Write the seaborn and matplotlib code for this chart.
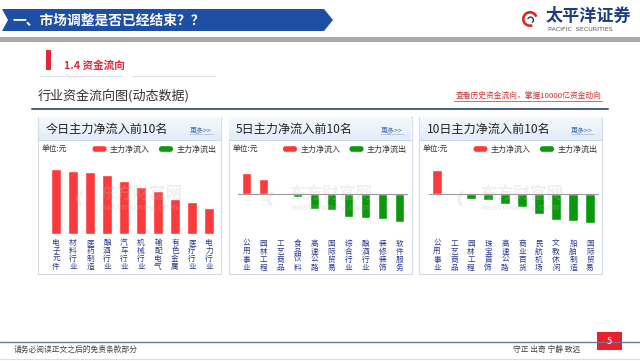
import matplotlib
matplotlib.use('Agg')
import matplotlib.pyplot as plt
import seaborn as sns
import pandas as pd
import numpy as np
from matplotlib.patches import Polygon, Rectangle, FancyBboxPatch, Wedge
from matplotlib.colors import LinearSegmentedColormap

# ---------------- data ----------------
panel_titles = ['今日主力净流入前10名', '5日主力净流入前10名', '10日主力净流入前10名']
today_cats = ['电子元件', '材料行业', '医药制造', '酿酒行业', '汽车行业',
              '机械行业', '输配电气', '有色金属', '医疗行业', '电力行业']
today_vals = [6.44, 6.27, 6.20, 5.84, 5.27, 4.67, 4.27, 3.44, 3.14, 2.54]
d5_cats = ['公用事业', '园林工程', '工艺商品', '食品饮料', '高速公路',
           '国际贸易', '综合行业', '酿酒行业', '装修装饰', '软件服务']
d5_vals = [2.13, 1.53, 0.02, -0.27, -1.47, -1.60, -2.27, -2.43, -2.50, -2.77]
d10_cats = ['公用事业', '工艺商品', '园林工程', '珠宝首饰', '高速公路',
            '商业百货', '民航机场', '文教休闲', '船舶制造', '国际贸易']
d10_vals = [2.37, 0.02, -0.50, -0.60, -1.00, -1.30, -2.00, -2.63, -2.73, -2.87]
legend_labels = ['主力净流入', '主力净流出']

RED = '#fb3b3b'
GREEN = '#0a990a'
NAVY_LBL = '#2b3a8c'

sns.set_theme(style='white')
plt.rcParams['font.family'] = ['Noto Sans CJK SC', 'DejaVu Sans']

W, H = 640, 361
fig = plt.figure(figsize=(W / 100, H / 100), dpi=100)
fig.patch.set_facecolor('white')

bg = fig.add_axes([0, 0, 1, 1])
bg.set_xlim(0, W)
bg.set_ylim(H, 0)
bg.axis('off')


def fax(x0, y0, x1, y1):
    return [x0 / W, 1 - y1 / H, (x1 - x0) / W, (y1 - y0) / H]


# ---------------- header ----------------
bg.add_patch(Polygon([(2, 9), (324, 9), (333, 20), (324, 31), (2, 31), (8, 20)],
                     closed=True, facecolor='#1d4fa5', edgecolor='none'))
bg.text(12, 20.5, '一、市场调整是否已经结束？？', color='white', fontsize=9.9,
        fontweight='bold', va='center', ha='left')
bg.add_patch(Rectangle((0, 37), W, 5, facecolor='#a9a9a9', edgecolor='none'))

# logo
bg.add_patch(Wedge((530, 19), 8, 70, 340, width=2.6, facecolor='#d9261c', edgecolor='none'))
bg.add_patch(Wedge((530.5, 20), 3.6, 200, 60, width=1.4, facecolor='#1d3d7f', edgecolor='none'))
bg.text(546, 16, '太平洋证券', color='#1d3d7f', fontsize=12.3, fontweight='bold',
        va='center', ha='left')
bg.text(548, 29.5, 'PACIFIC  SECURITIES', color='#555555', fontsize=4.6,
        va='center', ha='left', family=['DejaVu Sans'])

# section
bg.add_patch(Rectangle((46, 50), 4.5, 20, facecolor='#e0283a', edgecolor='none'))
bg.text(64, 66, '1.4 资金流向', color='#e0283a', fontsize=7.7, fontweight='bold',
        va='center', ha='left')
bg.plot([40, 122], [76, 76], color='#dde4ec', lw=0.8)
bg.plot([132, 215], [76, 76], color='#dde4ec', lw=0.8)

bg.text(38, 96, '行业资金流向图(动态数据)', color='#333333', fontsize=9.4,
        va='center', ha='left')
bg.text(602, 96, '查看历史资金流向，掌握10000亿资金动向', color='#c9302c', fontsize=5.6,
        va='center', ha='right')
bg.plot([454, 602], [100.5, 100.5], color='#c9302c', lw=0.5)
bg.plot([32, 608], [109.3, 109.3], color='#4a5f7a', lw=1.4)

# ---------------- panels ----------------
panels = [
    (38.0, panel_titles[0], today_cats, today_vals, (0, 7.37), 233.7),
    (228.5, panel_titles[1], d5_cats, d5_vals, (-4.0, 3.4), 234.0),
    (419.0, panel_titles[2], d10_cats, d10_vals, (-4.0, 3.4), 234.0),
]
PW = 183
grad = np.linspace(0, 1, 64).reshape(-1, 1)
hcmap = LinearSegmentedColormap.from_list('h', ['#f6f9fd', '#e2ecf8'])

for left, title, cats, vals, ylim, axbot in panels:
    # box
    bg.add_patch(Rectangle((left, 117), PW, 157, facecolor='white',
                           edgecolor='#d3dbe4', lw=0.8, zorder=1))
    bg.imshow(grad, extent=(left + 0.5, left + PW - 0.5, 140, 117.5), cmap=hcmap,
              aspect='auto', zorder=2)
    bg.plot([left, left + PW], [140, 140], color='#c9d6e6', lw=0.7, zorder=3)
    bg.text(left + 7.5, 129.5, title, color='#222222', fontsize=8.7,
            va='center', ha='left', zorder=4)
    bg.text(left + 152, 130, '更多>>', color='#4a6fb0', fontsize=5,
            va='center', ha='left', zorder=4)
    bg.plot([left + 152, left + 175], [133.5, 133.5], color='#4a6fb0', lw=0.4,
            ls=(0, (1, 1)), zorder=4)
    # legend row
    bg.text(left + 4, 149, '单位:元', color='#333333', fontsize=5.6,
            va='center', ha='left', zorder=4)
    bg.add_patch(FancyBboxPatch((left + 54.5, 146.2), 14, 5.6,
                                boxstyle='round,pad=0,rounding_size=2.6',
                                facecolor=RED, edgecolor='none', zorder=4))
    bg.text(left + 72, 149, legend_labels[0], color='#333333', fontsize=5.8,
            va='center', ha='left', zorder=4)
    bg.add_patch(FancyBboxPatch((left + 121, 146.2), 14, 5.6,
                                boxstyle='round,pad=0,rounding_size=2.6',
                                facecolor=GREEN, edgecolor='none', zorder=4))
    bg.text(left + 138.5, 149, legend_labels[1], color='#333333', fontsize=5.8,
            va='center', ha='left', zorder=4)

    # bar chart
    ax = fig.add_axes(fax(left + 9.5, 160, left + 9.5 + 170, axbot))
    ax.set_facecolor('none')
    df = pd.DataFrame({'行业': cats, '净流入': vals,
                       '方向': ['流入' if v >= 0 else '流出' for v in vals]})
    levels = [k for k in ['流入', '流出'] if k in set(df['方向'])]
    pal = {'流入': RED, '流出': GREEN}
    sns.barplot(data=df, x='行业', y='净流入', hue='方向', order=cats,
                hue_order=levels, palette={k: pal[k] for k in levels},
                dodge=False, width=0.565, saturation=1, legend=False, ax=ax)
    ax.set_xlim(-0.5, 9.5)
    ax.set_ylim(*ylim)
    ax.axhline(0, color='#9a9a9a', lw=0.8, zorder=3)
    for s in ax.spines.values():
        s.set_visible(False)
    ax.set_yticks([])
    ax.set_xlabel('')
    ax.set_ylabel('')
    ax.set_xticks(range(len(cats)))
    ax.set_xticklabels(['\n'.join(c) for c in cats], fontsize=5.5, color=NAVY_LBL,
                       linespacing=1.0, va='top')
    ax.tick_params(axis='x', length=0, pad=4)

    # faint watermark on top
    wm = fig.add_axes(fax(left, 117, left + PW, 274))
    wm.set_xlim(0, PW)
    wm.set_ylim(157, 0)
    wm.axis('off')
    wm.text(61, 78, '东方财富网', color='#bdbdbd', alpha=0.22, fontsize=12,
            fontweight='bold', va='center', ha='left', style='italic')
    wm.text(62, 90, 'eastmoney.com', color='#bdbdbd', alpha=0.22, fontsize=6.5,
            fontweight='bold', va='center', ha='left', family=['DejaVu Sans'])
    wm.add_patch(Wedge((47, 82), 9, 120, 250, width=4, facecolor='#bdbdbd',
                       alpha=0.22, edgecolor='none'))

# ---------------- footer ----------------
bg.plot([0, W], [342, 342], color='#6b7a8f', lw=1.0)
bg.plot([0, W], [358.5, 358.5], color='#dddddd', lw=0.8)
bg.add_patch(Rectangle((597, 332), 25, 18, facecolor='#e8202f', edgecolor='none'))
bg.text(609.5, 341, '5', color='white', fontsize=6.5, va='center', ha='center')
bg.text(14, 350, '请务必阅读正文之后的免责条款部分', color='#444444', fontsize=5.6,
        va='center', ha='left')
bg.text(513, 350, '守正 出奇 宁静 致远', color='#444444', fontsize=5.6,
        va='center', ha='left')

fig.savefig('out.png', dpi=100, facecolor='white')
